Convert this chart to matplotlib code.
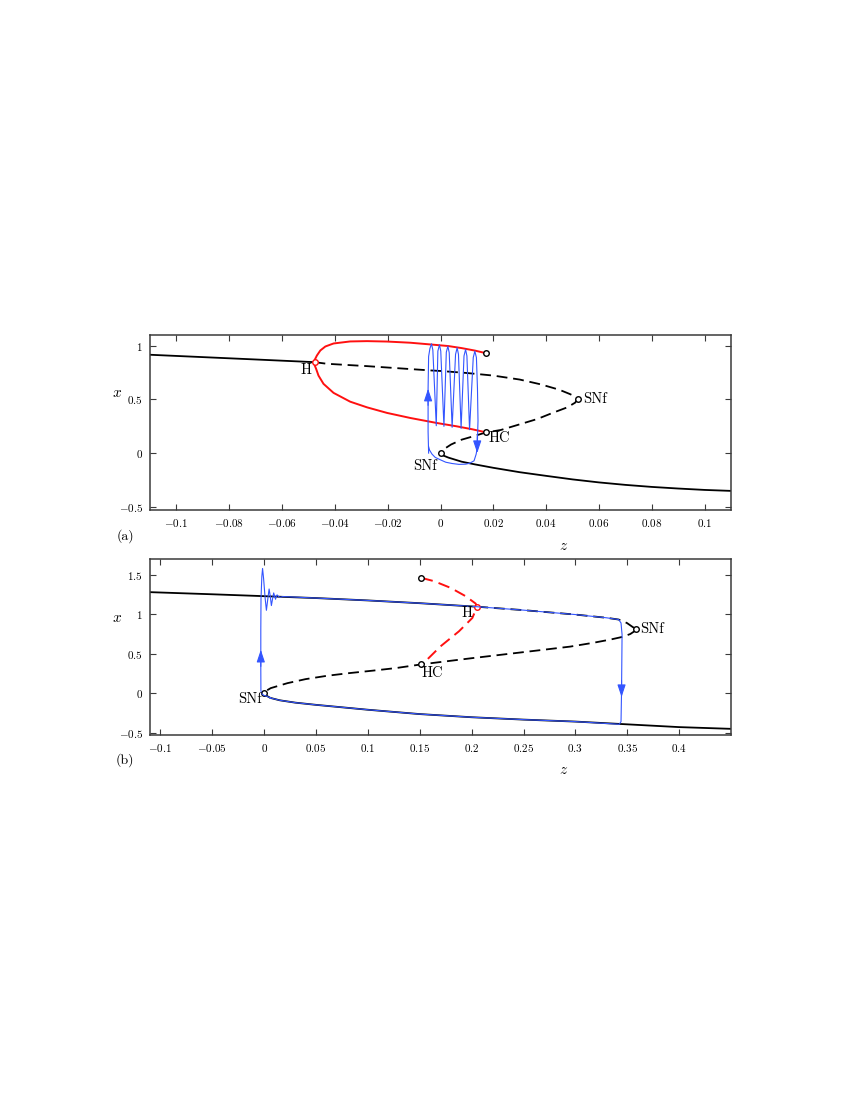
import matplotlib
matplotlib.use("Agg")
import matplotlib.pyplot as plt
from matplotlib.ticker import FixedLocator, FuncFormatter

plt.rcParams['font.family'] = ['cmr10', 'DejaVu Serif']
plt.rcParams['mathtext.fontset'] = 'cm'
plt.rcParams['axes.formatter.use_mathtext'] = True
plt.rcParams['axes.unicode_minus'] = True

# ---------------- panel (a) data ----------------
a_up_z = [-0.11, -0.09, -0.07, -0.0477]
a_up_x = [0.916, 0.894, 0.872, 0.847]

a_mid_z = [-0.0477, -0.043, -0.0278, -0.0038, 0.0, 0.01, 0.02, 0.03, 0.038, 0.045, 0.049, 0.0515, 0.0519,
           0.051, 0.048, 0.0424, 0.0367, 0.0304, 0.0228, 0.0173,
           0.0125, 0.008, 0.004, 0.0015, 0.0]
a_mid_x = [0.847, 0.832, 0.81, 0.77, 0.765, 0.746, 0.722, 0.685, 0.64, 0.59, 0.55, 0.52, 0.505,
           0.47, 0.426, 0.374, 0.318, 0.271, 0.215, 0.193,
           0.157, 0.125, 0.08, 0.04, 0.0]

a_low_z = [0.0, 0.001, 0.003, 0.008, 0.013, 0.02, 0.03, 0.04, 0.05, 0.06, 0.07, 0.08, 0.09, 0.1, 0.11]
a_low_x = [0.0, -0.022, -0.042, -0.08, -0.105, -0.137, -0.178, -0.212, -0.245, -0.273, -0.296,
           -0.315, -0.33, -0.343, -0.352]

a_red_z = [0.0173, 0.013, 0.008, 0.003, -0.0038, -0.0114, -0.0202, -0.0278, -0.0342, -0.0405,
           -0.0436, -0.0455, -0.0468, -0.0476, -0.0478, -0.0476, -0.0471, -0.0462, -0.0443,
           -0.0405, -0.0342, -0.0278, -0.0202, -0.0114, -0.0013, 0.006, 0.012, 0.0173]
a_red_x = [0.93, 0.955, 0.978, 0.997, 1.012, 1.028, 1.039, 1.043, 1.04, 1.021,
           0.993, 0.956, 0.909, 0.87, 0.847, 0.815, 0.785, 0.722, 0.645,
           0.561, 0.479, 0.426, 0.374, 0.327, 0.28, 0.25, 0.222, 0.193]

a_blue_z = [-0.0045, -0.0047, -0.0047, -0.0045, -0.0040, -0.0034, -0.0029,
            -0.0016, -0.0010, -0.0004, 0.0001,
            0.0013, 0.0022, 0.0028, 0.0033,
            0.0044, 0.0057, 0.0063, 0.0068,
            0.0078, 0.0089, 0.0095, 0.0100,
            0.0110, 0.0124, 0.0130, 0.0136,
            0.0140, 0.0142, 0.0139, 0.0135, 0.0127, 0.0110, 0.0095, 0.0070, 0.0044,
            0.0020, 0.0, -0.0020, -0.0032, -0.0042, -0.0045]
a_blue_x = [0.0, 0.2, 0.6, 0.9, 0.975, 1.018, 0.96,
            0.255, 0.95, 1.009, 0.95,
            0.249, 0.94, 0.996, 0.935,
            0.24, 0.92, 0.981, 0.92,
            0.23, 0.905, 0.965, 0.905,
            0.218, 0.89, 0.95, 0.89,
            0.6, 0.3, 0.05, -0.01, -0.072, -0.095, -0.103, -0.105, -0.097,
            -0.085, -0.063, -0.04, -0.01, 0.03, 0.06]

a_arrows = [(-0.0047, 0.60, 1), (0.0139, 0.0, -1)]
a_pts_black = [(0.0173, 0.93), (0.0519, 0.505), (0.0173, 0.193), (0.0, 0.0)]
a_pt_H = (-0.0477, 0.847)

a_xticks = [-0.1, -0.08, -0.06, -0.04, -0.02, 0.0, 0.02, 0.04, 0.06, 0.08, 0.1]
a_yticks = [-0.5, 0.0, 0.5, 1.0]

# ---------------- panel (b) data ----------------
b_up_z = [-0.11, -0.05, 0.0, 0.05, 0.1, 0.15, 0.2055]
b_up_x = [1.28, 1.253, 1.229, 1.205, 1.175, 1.14, 1.095]

b_updash_z = [0.2055, 0.25, 0.3, 0.33, 0.3417, 0.3497, 0.3555, 0.3587]
b_updash_x = [1.095, 1.052, 0.996, 0.955, 0.933, 0.889, 0.836, 0.815]

b_mid_z = [0.3587, 0.357, 0.353, 0.346, 0.334, 0.318, 0.295, 0.25, 0.2, 0.1516,
           0.127, 0.1045, 0.082, 0.061, 0.04, 0.0225, 0.0064, 0.002, 0.0]
b_mid_x = [0.815, 0.785, 0.75, 0.715, 0.68, 0.64, 0.59, 0.52, 0.443, 0.365,
           0.318, 0.285, 0.254, 0.221, 0.178, 0.127, 0.064, 0.03, 0.0]

b_low_z = [0.0, 0.002, 0.006, 0.015, 0.03, 0.05, 0.1, 0.15, 0.2, 0.25, 0.3, 0.343, 0.4, 0.45]
b_low_x = [0.0, -0.03, -0.06, -0.09, -0.12, -0.148, -0.21, -0.265, -0.305, -0.335, -0.36, -0.39, -0.43, -0.452]

b_red_z = [0.1516, 0.1638, 0.1798, 0.1942, 0.2038, 0.2055, 0.2035, 0.2007, 0.1878, 0.170, 0.157, 0.1516]
b_red_x = [1.461, 1.419, 1.334, 1.229, 1.136, 1.093, 1.04, 0.953, 0.784, 0.593, 0.424, 0.365]

b_blue_z = [0.006, 0.002, 0.0, -0.002, -0.0031, -0.0032, -0.0032, -0.0030, -0.0022, -0.0015,
            -0.0005, 0.0010, 0.0022, 0.0036, 0.0048, 0.0060, 0.0070, 0.0082, 0.0092, 0.0101,
            0.0110, 0.0118, 0.0125, 0.0138, 0.0155, 0.018,
            0.05, 0.1, 0.15, 0.2055, 0.25, 0.3, 0.33, 0.3417, 0.3440, 0.3450, 0.3445, 0.3440,
            0.3423, 0.3, 0.25, 0.2, 0.15, 0.1, 0.05, 0.03, 0.015, 0.006]
b_blue_x = [-0.06, -0.035, -0.03, -0.01, 0.03, 0.3, 0.8, 1.2, 1.48, 1.58,
            1.45, 1.2, 1.05, 1.2, 1.32, 1.22, 1.11, 1.2, 1.27, 1.23,
            1.19, 1.23, 1.245, 1.225, 1.215, 1.224,
            1.205, 1.175, 1.14, 1.095, 1.052, 0.996, 0.955, 0.933, 0.889, 0.742, 0.02, -0.36,
            -0.394, -0.36, -0.335, -0.305, -0.265, -0.21, -0.148, -0.12, -0.09, -0.06]

b_arrows = [(-0.0032, 0.55, 1), (0.3445, -0.05, -1)]
b_pts_black = [(0.0, 0.0), (0.1516, 0.365), (0.1516, 1.461), (0.3587, 0.815)]
b_pt_H = (0.2055, 1.093)

b_xticks = [-0.1, -0.05, 0.0, 0.05, 0.1, 0.15, 0.2, 0.25, 0.3, 0.35, 0.4]
b_yticks = [-0.5, 0.0, 0.5, 1.0, 1.5]

# ---------------- styling ----------------
BLUE = '#3355ff'
RED = '#ff1010'
DASH = (0, (6.0, 3.2))
spine_col = '#3a3a3a'

fig = plt.figure(figsize=(8.5, 11), dpi=100)
axA = fig.add_axes([150 / 850, 1 - 510 / 1100, 581 / 850, 175 / 1100])
axB = fig.add_axes([150 / 850, 1 - 735 / 1100, 581 / 850, 176 / 1100])

fmt = FuncFormatter(lambda v, p: r'$\mathdefault{%g}$' % round(v, 4))


def style(ax, xt, yt, xlim, ylim):
    ax.set_xlim(*xlim)
    ax.set_ylim(*ylim)
    ax.xaxis.set_major_locator(FixedLocator(xt))
    ax.yaxis.set_major_locator(FixedLocator(yt))
    ax.xaxis.set_major_formatter(fmt)
    ax.yaxis.set_major_formatter(fmt)
    ax.tick_params(direction='in', top=True, right=True, length=4, width=0.8,
                   labelsize=8, color=spine_col, pad=5)
    for s in ax.spines.values():
        s.set_color(spine_col)
        s.set_linewidth(1.1)


def pts(ax, lst, ec='k'):
    zz = [p[0] for p in lst]
    xx = [p[1] for p in lst]
    ax.plot(zz, xx, 'o', ms=4, mfc='white', mec=ec, mew=1.0, zorder=6)


def arrows(ax, lst):
    for z, x, d in lst:
        ax.annotate('', xy=(z, x), xytext=(0, -12 * d), textcoords='offset points',
                    xycoords='data',
                    arrowprops=dict(arrowstyle='-|>,head_length=0.75,head_width=0.25',
                                    color=BLUE, lw=0.8, shrinkA=0, shrinkB=0),
                    zorder=7)


# ---- panel (a)
ax = axA
ax.plot(a_up_z, a_up_x, color='k', lw=1.3, zorder=2)
ax.plot(a_mid_z, a_mid_x, color='k', lw=1.3, ls=DASH, zorder=2)
ax.plot(a_low_z, a_low_x, color='k', lw=1.3, zorder=2)
ax.plot(a_red_z, a_red_x, color=RED, lw=1.4, zorder=3)
ax.plot(a_blue_z, a_blue_x, color=BLUE, lw=0.8, zorder=4)
pts(ax, a_pts_black)
pts(ax, [a_pt_H], ec=RED)
arrows(ax, a_arrows)
style(ax, a_xticks, a_yticks, (-0.11, 0.11), (-0.53, 1.1))

lab = dict(fontsize=10.5, textcoords='offset points', zorder=8)
ax.annotate('H', xy=a_pt_H, xytext=(-6, -6), ha='center', va='center', **lab)
ax.annotate('SNf', xy=a_pts_black[1], xytext=(4, 0), ha='left', va='center', **lab)
ax.annotate('HC', xy=a_pts_black[2], xytext=(1.5, -4), ha='left', va='center', **lab)
ax.annotate('SNf', xy=a_pts_black[3], xytext=(-11, -9.5), ha='center', va='center', **lab)

ax.set_ylabel(r'$x$', fontsize=11, rotation=0)
ax.yaxis.set_label_coords(-0.057, 0.63)
ax.set_xlabel(r'$z$', fontsize=11)
ax.xaxis.set_label_coords(0.711, -0.17)
fig.text(125 / 850, 1 - 536 / 1100, '(a)', fontsize=10, ha='center', va='center')

# ---- panel (b)
ax = axB
ax.plot(b_up_z, b_up_x, color='k', lw=1.3, zorder=2)
ax.plot(b_updash_z, b_updash_x, color='k', lw=1.3, ls=DASH, zorder=2)
ax.plot(b_mid_z, b_mid_x, color='k', lw=1.3, ls=DASH, zorder=2)
ax.plot(b_low_z, b_low_x, color='k', lw=1.3, zorder=2)
ax.plot(b_red_z, b_red_x, color=RED, lw=1.4, ls=DASH, zorder=3)
pts(ax, b_pts_black)
pts(ax, [b_pt_H], ec=RED)
ax.plot(b_blue_z, b_blue_x, color=BLUE, lw=0.8, zorder=7)
arrows(ax, b_arrows)
style(ax, b_xticks, b_yticks, (-0.11, 0.45), (-0.53, 1.7))

ax.annotate('SNf', xy=b_pts_black[0], xytext=(-10, -4.5), ha='center', va='center', **lab)
ax.annotate('H', xy=b_pt_H, xytext=(-7.5, -4.5), ha='center', va='center', **lab)
ax.annotate('HC', xy=b_pts_black[1], xytext=(8, -6), ha='center', va='center', **lab)
ax.annotate('SNf', xy=b_pts_black[3], xytext=(3, 0), ha='left', va='center', **lab)

ax.set_ylabel(r'$x$', fontsize=11, rotation=0)
ax.yaxis.set_label_coords(-0.057, 0.625)
ax.set_xlabel(r'$z$', fontsize=11)
ax.xaxis.set_label_coords(0.711, -0.16)
fig.text(125 / 850, 1 - 760 / 1100, '(b)', fontsize=10, ha='center', va='center')

fig.savefig('out.png', dpi=100)
